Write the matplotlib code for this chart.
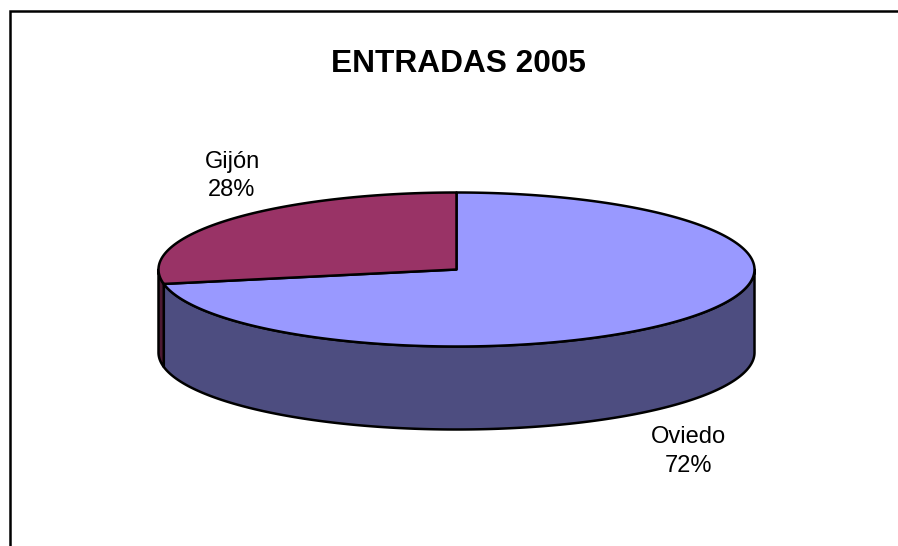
import numpy as np
import matplotlib
matplotlib.use("Agg")
import matplotlib.pyplot as plt

title = "ENTRADAS 2005"
categories = ["Oviedo", "Gijón"]
values = [72, 28]
top_colors = ["#9999FF", "#993366"]
side_colors = ["#4D4D80", "#4D1A33"]
label_pos = [(688, 451.5), (232, 176)]

# pie geometry in pixels
cx, cy = 456.5, 269.5
rx, ry = 298, 77
depth = 83
lw = 1.8

plt.rcParams["font.family"] = ["Liberation Sans", "DejaVu Sans"]

fig = plt.figure(figsize=(8.98, 5.46), dpi=100)
ax = fig.add_axes([0, 0, 1, 1])
ax.set_xlim(0, 898)
ax.set_ylim(546, 0)
ax.axis("off")

# frame, only left and top are inside the picture
ax.plot([10, 10, 898], [546, 11, 11], color="black", lw=1.8, solid_joinstyle="miter")


def ellipse_pts(a0, a1, y0=cy):
    t = np.radians(np.linspace(a0, a1, 300))
    # screen y goes down, so angle is measured with +y up
    return cx + rx * np.cos(t), y0 - ry * np.sin(t)


# slices go clockwise from 12 o'clock
total = sum(values)
start = 90.0
slices = []
for v in values:
    end = start - v / total * 360
    slices.append((start, end))
    start = end

# side walls, only the front half (180..360 in math angle) shows
for (a0, a1), col in zip(slices, side_colors):
    lo, hi = a1 % 360, a0 % 360
    if hi <= lo:
        hi += 360
    parts = [(max(lo, 180), min(hi, 360)), (max(lo, 540), min(hi, 720))]
    for p0, p1 in parts:
        if p1 <= p0:
            continue
        xs, ys = ellipse_pts(p0, p1)
        xb, yb = ellipse_pts(p1, p0, cy + depth)
        ax.fill(np.r_[xs, xb], np.r_[ys, yb], facecolor=col, edgecolor="black", lw=lw, joinstyle="round")

# top faces
for (a0, a1), col in zip(slices, top_colors):
    xs, ys = ellipse_pts(a0, a1)
    ax.fill(np.r_[cx, xs], np.r_[cy, ys], facecolor=col, edgecolor="black", lw=lw, joinstyle="round")

ax.text(458.5, 63.5, title, fontsize=22.8, fontweight="bold", ha="center", va="center")

for name, v, (x, y) in zip(categories, values, label_pos):
    ax.text(x, y, f"{name}\n{v}%", fontsize=17, ha="center", va="center", linespacing=1.4)

fig.savefig("out.png", dpi=100, facecolor="white")
